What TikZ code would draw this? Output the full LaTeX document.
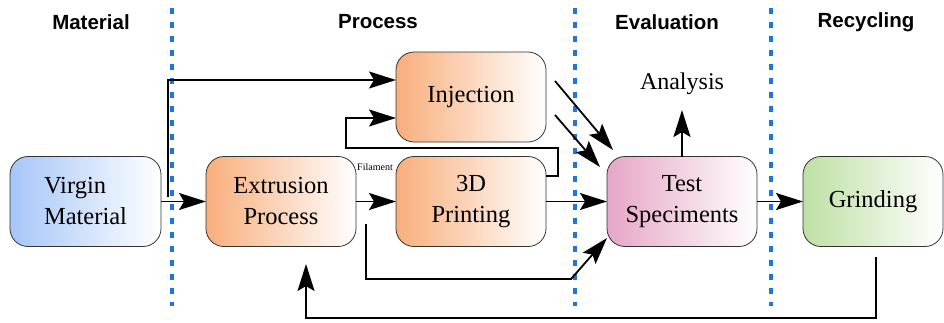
\documentclass[tikz,border=0pt]{standalone}
\usepackage{fontspec}
\setmainfont{Liberation Serif}
\newfontfamily\headfont{Liberation Sans}
\usetikzlibrary{arrows.meta}
\definecolor{cblue}{HTML}{A6C6F8}
\definecolor{corange}{HTML}{F8AE7C}
\definecolor{cpink}{HTML}{E6A6C6}
\definecolor{cgreen}{HTML}{BEE0A4}
\definecolor{cdiv}{HTML}{1E74E0}
\definecolor{cborder}{HTML}{333333}
\begin{document}
\begin{tikzpicture}[x=1pt,y=-1pt,
  box/.style={draw=cborder, line width=0.8pt, rounded corners=18pt,
    minimum width=150pt, minimum height=90pt, inner sep=0pt, outer sep=0pt,
    font=\fontsize{24.5}{31}\selectfont, align=center, right color=white},
  head/.style={font=\headfont\bfseries\fontsize{20.5}{24}\selectfont, inner sep=0pt},
  arr/.style={-{Stealth[length=27pt,width=17pt,inset=5pt]}, line width=1.8pt},
  divider/.style={cdiv, line width=3.2pt, dash pattern=on 6pt off 8pt}
]
\useasboundingbox (0,0) rectangle (944,322);

% dividers
\draw[divider] (172,8) -- (172,306);
\draw[divider] (575,8) -- (575,306);
\draw[divider] (771,8) -- (771,306);

% headers
\node[head] (hmat) at (91,22) {Material};
\node[head] (hproc) at (378,22) {Process};
\node[head] (heval) at (667,22) {Evaluation};
\node[head] (hrec) at (866,22) {Recycling};

% boxes
\node[box, left color=cblue, minimum width=151pt, align=left] (virgin) at (85.5,201.5) {Virgin\\Material};
\node[box, left color=corange] (extr) at (281,201.5) {Extrusion\\Process};
\node[box, left color=corange] (print) at (471,201.5) {3D\\Printing};
\node[box, left color=corange] (inj) at (471,97) {Injection};
\node[box, left color=cpink] (test) at (682,201.5) {Test\\Speciments};
\node[box, left color=cgreen, minimum width=140pt] (grind) at (873,201.5) {Grinding};

\node[font=\fontsize{24}{28}\selectfont, inner sep=0pt] (analysis) at (682,84) {Analysis};
\node[font=\fontsize{10}{11}\selectfont, inner sep=0pt] (fil) at (375,167) {Filament};

% coordinates for free ends
\coordinate (b1) at (168,197);
\coordinate (l1) at (558,176);
\coordinate (l2) at (558,148);
\coordinate (l3) at (346,148);
\coordinate (l4) at (346,118);
\coordinate (d1s) at (555,81);
\coordinate (d1e) at (613,150);
\coordinate (d2s) at (555,115);
\coordinate (d2e) at (600,167);
\coordinate (bs) at (366,224);
\coordinate (bc) at (571,279);
\coordinate (be) at (607,238);
\coordinate (gs) at (876,257);
\coordinate (ge) at (306,264);
\coordinate (at) at (682,110);

% connectors
\draw[arr] (virgin.east) -- (extr.west);
\draw[arr] (b1) |- ([yshift=17pt]inj.west);
\draw[arr] (extr.east) -- (print.west);
\draw[arr] ([yshift=25.5pt]print.east) -- (l1) -- (l2) -- (l3) -- (l4) -- ([yshift=-21pt]inj.west);
\draw[arr] (d1s) -- (d1e);
\draw[arr] (d2s) -- (d2e);
\draw[arr] (print.east) -- (test.west);
\draw[arr] (bs) |- (bc) -- (be);
\draw[arr] (test.east) -- (grind.west);
\draw[arr] (gs) |- (ge |- 0,318) -- (ge);
\draw[arr] (test.north) -- (at);
\end{tikzpicture}
\end{document}
